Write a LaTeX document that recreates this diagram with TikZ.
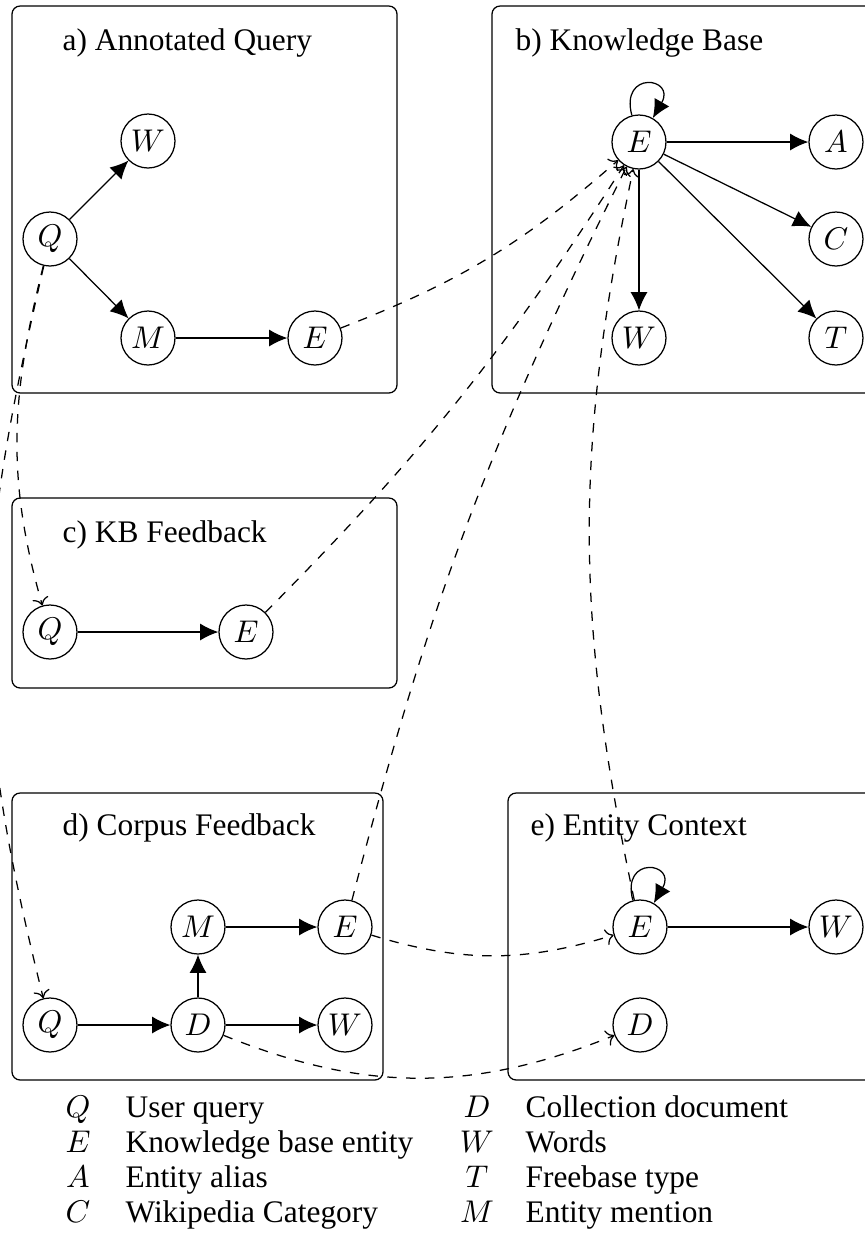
\documentclass[tikz,border=0pt]{standalone}
\usepackage{fontspec}
\setmainfont{Liberation Serif}
\usetikzlibrary{arrows.meta}
\begin{document}
\begin{tikzpicture}[x=0.3185pt,y=0.3185pt,
  var/.style={draw,circle,minimum size=17.2pt,inner sep=0pt},
  panel/.style={draw,rounded corners=2.6pt},
  ttl/.style={anchor=base west,inner sep=0pt},
  arr/.style={-{Latex[length=5.8pt,width=5.4pt]}},
  dsh/.style={->,dashed},
  sym/.style={anchor=base,inner sep=0pt},
  desc/.style={anchor=base west,inner sep=0pt}]
\useasboundingbox (0,0) rectangle (865,-1242);
% panels
\draw[panel] (12,-6) rectangle (397,-393);
\draw[panel] (492,-6) rectangle (890,-393);
\draw[panel] (12,-498) rectangle (397,-688);
\draw[panel] (12,-793) rectangle (383,-1080);
\draw[panel] (508,-793) rectangle (890,-1080);
% titles
\node[ttl] (ta) at (62,-50) {a) Annotated Query};
\node[ttl] (tb) at (515,-50) {b) Knowledge Base};
\node[ttl] (tc) at (62,-542) {c) KB Feedback};
\node[ttl] (td) at (62,-835) {d) Corpus Feedback};
\node[ttl] (te) at (530,-835) {e) Entity Context};
% a
\node[var] (aW) at (148,-141) {$W$};
\node[var] (aQ) at (50,-239) {$Q$};
\node[var] (aM) at (148,-338) {$M$};
\node[var] (aE) at (315,-338) {$E$};
\draw[arr] (aQ) -- (aW);
\draw[arr] (aQ) -- (aM);
\draw[arr] (aM) -- (aE);
% b
\node[var] (bE) at (639,-142) {$E$};
\node[var] (bA) at (836,-142) {$A$};
\node[var] (bC) at (836,-239) {$C$};
\node[var] (bW) at (639,-338) {$W$};
\node[var] (bT) at (836,-338) {$T$};
\draw[arr] (bE) -- (bA);
\draw[arr] (bE) -- (bC);
\draw[arr] (bE) -- (bT);
\draw[arr] (bE) -- (bW);
\draw[arr] (bE.105) .. controls +(105:15pt) and +(60:15pt) .. (bE.60);
% c
\node[var] (cQ) at (50,-632) {$Q$};
\node[var] (cE) at (246,-632) {$E$};
\draw[arr] (cQ) -- (cE);
% d
\node[var] (dM) at (198,-927) {$M$};
\node[var] (dE) at (345,-927) {$E$};
\node[var] (dQ) at (50,-1025) {$Q$};
\node[var] (dD) at (198,-1025) {$D$};
\node[var] (dW) at (345,-1025) {$W$};
\draw[arr] (dQ) -- (dD);
\draw[arr] (dD) -- (dM);
\draw[arr] (dM) -- (dE);
\draw[arr] (dD) -- (dW);
% e
\node[var] (eE) at (640,-927) {$E$};
\node[var] (eW) at (836,-927) {$W$};
\node[var] (eD) at (640,-1025) {$D$};
\draw[arr] (eE) -- (eW);
\draw[arr] (eE.105) .. controls +(105:15pt) and +(60:15pt) .. (eE.60);
% dashed connectors
\draw[dsh] (aE) to[bend right=10] (bE);
\draw[dsh] (cE) to[bend right=6] (bE);
\draw[dsh] (dE) to[bend left=6] (bE);
\draw[dsh] (eE) to[out=102,in=-102] (bE);
\draw[dsh] (aQ) to[out=-104,in=106] (cQ);
\draw[dsh] (aQ) to[out=-103,in=104,looseness=1.1] (dQ);
\draw[dsh] (dE) to[bend right=17] (eE);
\draw[dsh] (dD) to[bend right=22] (eD);
% legend
\node[sym] (lQ) at (78,-1117) {$Q$};
\node[desc] (lQt) at (125,-1117) {User query};
\node[sym] (lE) at (78,-1152) {$E$};
\node[desc] (lEt) at (125,-1152) {Knowledge base entity};
\node[sym] (lA) at (78,-1187) {$A$};
\node[desc] (lAt) at (125,-1187) {Entity alias};
\node[sym] (lC) at (78,-1222) {$C$};
\node[desc] (lCt) at (125,-1222) {Wikipedia Category};
\node[sym] (lD) at (477,-1117) {$D$};
\node[desc] (lDt) at (525,-1117) {Collection document};
\node[sym] (lW) at (477,-1152) {$W$};
\node[desc] (lWt) at (525,-1152) {Words};
\node[sym] (lT) at (477,-1187) {$T$};
\node[desc] (lTt) at (525,-1187) {Freebase type};
\node[sym] (lM) at (477,-1222) {$M$};
\node[desc] (lMt) at (525,-1222) {Entity mention};
\end{tikzpicture}
\end{document}
